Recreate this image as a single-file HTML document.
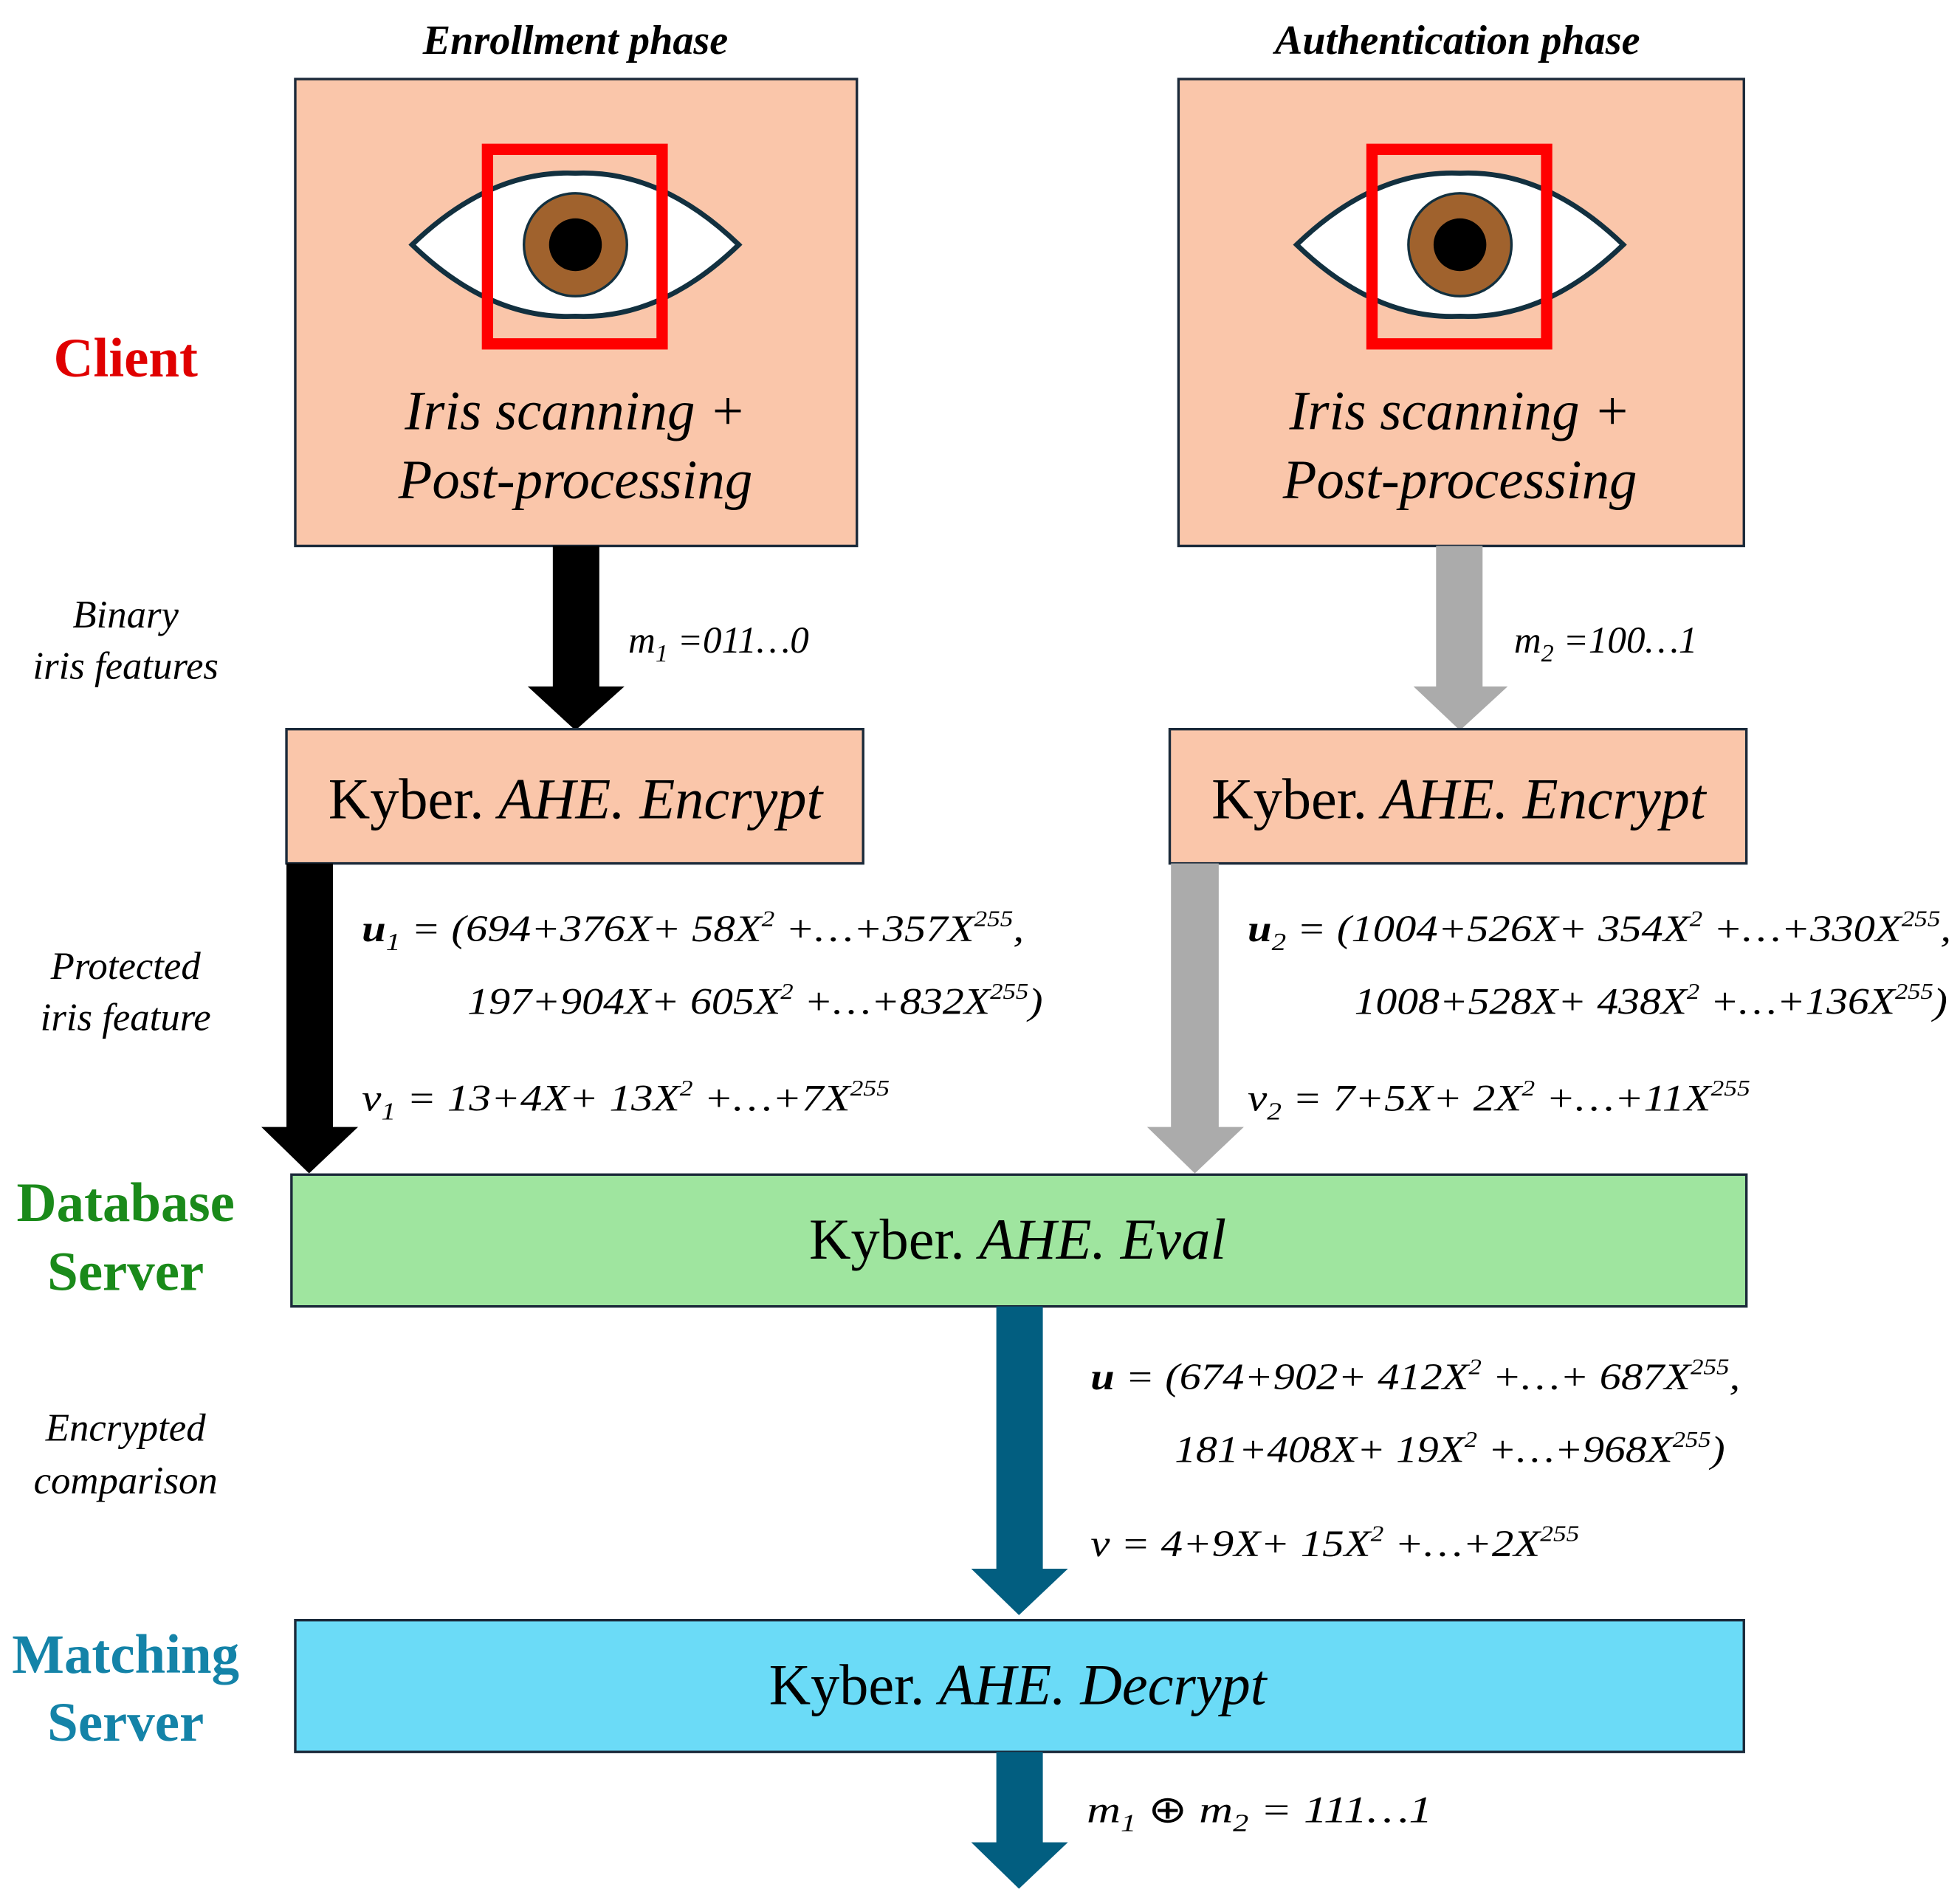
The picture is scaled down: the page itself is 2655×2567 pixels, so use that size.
<!DOCTYPE html>
<html><head><meta charset="utf-8">
<style>
html,body{margin:0;padding:0;background:#fff;}
svg{display:block;}
text{font-family:"Liberation Serif",serif;}
.it{font-style:italic;}
</style></head>
<body>
<svg width="2655" height="2567" viewBox="0 0 1560 1510" preserveAspectRatio="none" xmlns="http://www.w3.org/2000/svg">
<text x="458" y="43" text-anchor="middle" font-size="33" font-weight="bold" class="it">Enrollment phase</text>
<text x="1160" y="43" text-anchor="middle" font-size="33" font-weight="bold" class="it">Authentication phase</text>

<rect x="235" y="63" width="447" height="372" fill="#FAC6AA" stroke="#1b2a3a" stroke-width="2"/>
<rect x="938" y="63" width="450" height="372" fill="#FAC6AA" stroke="#1b2a3a" stroke-width="2"/>

<g>
<path d="M328,195 Q390,135 458,138 Q526,135 588,195 Q526,255 458,252 Q390,255 328,195 Z" fill="#fff" stroke="#12303f" stroke-width="4"/>
<circle cx="458" cy="195" r="41" fill="#A0622D" stroke="#12303f" stroke-width="2"/>
<circle cx="458" cy="195" r="21" fill="#000"/>
<rect x="388" y="119" width="139" height="155" fill="none" stroke="#FF0000" stroke-width="9"/>
</g>
<g transform="translate(704,0)">
<path d="M328,195 Q390,135 458,138 Q526,135 588,195 Q526,255 458,252 Q390,255 328,195 Z" fill="#fff" stroke="#12303f" stroke-width="4"/>
<circle cx="458" cy="195" r="41" fill="#A0622D" stroke="#12303f" stroke-width="2"/>
<circle cx="458" cy="195" r="21" fill="#000"/>
<rect x="388" y="119" width="139" height="155" fill="none" stroke="#FF0000" stroke-width="9"/>
</g>

<text x="458" y="342" text-anchor="middle" font-size="44" class="it">Iris scanning +</text>
<text x="458" y="397" text-anchor="middle" font-size="44" class="it">Post-processing</text>
<text x="1162" y="342" text-anchor="middle" font-size="44" class="it">Iris scanning +</text>
<text x="1162" y="397" text-anchor="middle" font-size="44" class="it">Post-processing</text>

<text x="100" y="300" text-anchor="middle" font-size="44" font-weight="bold" fill="#E00000">Client</text>
<text x="100" y="500" text-anchor="middle" font-size="31" class="it">Binary</text>
<text x="100" y="541" text-anchor="middle" font-size="31" class="it">iris features</text>
<text x="100" y="780" text-anchor="middle" font-size="31" class="it">Protected</text>
<text x="100" y="821" text-anchor="middle" font-size="31" class="it">iris feature</text>
<text x="100" y="973" text-anchor="middle" font-size="44" font-weight="bold" fill="#1A8A1A">Database</text>
<text x="100" y="1028" text-anchor="middle" font-size="44" font-weight="bold" fill="#1A8A1A">Server</text>
<text x="100" y="1148" text-anchor="middle" font-size="31" class="it">Encrypted</text>
<text x="100" y="1190" text-anchor="middle" font-size="31" class="it">comparison</text>
<text x="100" y="1333" text-anchor="middle" font-size="44" font-weight="bold" fill="#1483A8">Matching</text>
<text x="100" y="1387" text-anchor="middle" font-size="44" font-weight="bold" fill="#1483A8">Server</text>

<polygon points="440,435 477,435 477,547 497,547 458,582 420,547 440,547" fill="#000"/>
<polygon points="1143,435 1180,435 1180,547 1200,547 1162,582 1125,547 1143,547" fill="#ABABAB"/>
<text x="500" y="520" font-size="30" class="it">m<tspan font-size="20" dy="7">1</tspan><tspan dy="-7"> =011…0</tspan></text>
<text x="1205" y="520" font-size="30" class="it">m<tspan font-size="20" dy="7">2</tspan><tspan dy="-7"> =100…1</tspan></text>

<rect x="228" y="581" width="459" height="107" fill="#FAC6AA" stroke="#1b2a3a" stroke-width="2"/>
<rect x="931" y="581" width="459" height="107" fill="#FAC6AA" stroke="#1b2a3a" stroke-width="2"/>
<text x="458" y="652" text-anchor="middle" font-size="46"><tspan>Kyber. </tspan><tspan class="it">AHE. Encrypt</tspan></text>
<text x="1161" y="652" text-anchor="middle" font-size="46"><tspan>Kyber. </tspan><tspan class="it">AHE. Encrypt</tspan></text>

<polygon points="228,688 265,688 265,898 285,898 246,935 208,898 228,898" fill="#000"/>
<polygon points="932,688 970,688 970,898 990,898 951,935 913,898 932,898" fill="#ABABAB"/>

<text x="288" y="750" font-size="30" class="it" textLength="527" lengthAdjust="spacingAndGlyphs"><tspan font-weight="bold">u</tspan><tspan font-size="20" dy="7">1</tspan><tspan dy="-7"> = (694+376X+ 58X</tspan><tspan font-size="18" dy="-12">2</tspan><tspan dy="12"> +…+357X</tspan><tspan font-size="18" dy="-12">255</tspan><tspan dy="12">,</tspan></text>
<text x="372" y="808" font-size="30" class="it" textLength="458" lengthAdjust="spacingAndGlyphs">197+904X+ 605X<tspan font-size="18" dy="-12">2</tspan><tspan dy="12"> +…+832X</tspan><tspan font-size="18" dy="-12">255</tspan><tspan dy="12">)</tspan></text>
<text x="288" y="885" font-size="30" class="it" textLength="420" lengthAdjust="spacingAndGlyphs">v<tspan font-size="20" dy="7">1</tspan><tspan dy="-7"> = 13+4X+ 13X</tspan><tspan font-size="18" dy="-12">2</tspan><tspan dy="12"> +…+7X</tspan><tspan font-size="18" dy="-12">255</tspan></text>

<text x="993" y="750" font-size="30" class="it" textLength="560" lengthAdjust="spacingAndGlyphs"><tspan font-weight="bold">u</tspan><tspan font-size="20" dy="7">2</tspan><tspan dy="-7"> = (1004+526X+ 354X</tspan><tspan font-size="18" dy="-12">2</tspan><tspan dy="12"> +…+330X</tspan><tspan font-size="18" dy="-12">255</tspan><tspan dy="12">,</tspan></text>
<text x="1078" y="808" font-size="30" class="it" textLength="472" lengthAdjust="spacingAndGlyphs">1008+528X+ 438X<tspan font-size="18" dy="-12">2</tspan><tspan dy="12"> +…+136X</tspan><tspan font-size="18" dy="-12">255</tspan><tspan dy="12">)</tspan></text>
<text x="993" y="885" font-size="30" class="it" textLength="400" lengthAdjust="spacingAndGlyphs">v<tspan font-size="20" dy="7">2</tspan><tspan dy="-7"> = 7+5X+ 2X</tspan><tspan font-size="18" dy="-12">2</tspan><tspan dy="12"> +…+11X</tspan><tspan font-size="18" dy="-12">255</tspan></text>

<rect x="232" y="936" width="1158" height="105" fill="#9FE59F" stroke="#1b2a3a" stroke-width="2"/>
<text x="810" y="1003" text-anchor="middle" font-size="46"><tspan>Kyber. </tspan><tspan class="it">AHE. Eval</tspan></text>

<polygon points="793,1041 830,1041 830,1250 850,1250 811,1287 773,1250 793,1250" fill="#025E80"/>
<text x="868" y="1107" font-size="30" class="it" textLength="517" lengthAdjust="spacingAndGlyphs"><tspan font-weight="bold">u</tspan><tspan> = (674+902+ 412X</tspan><tspan font-size="18" dy="-12">2</tspan><tspan dy="12"> +…+ 687X</tspan><tspan font-size="18" dy="-12">255</tspan><tspan dy="12">,</tspan></text>
<text x="935" y="1165" font-size="30" class="it" textLength="438" lengthAdjust="spacingAndGlyphs">181+408X+ 19X<tspan font-size="18" dy="-12">2</tspan><tspan dy="12"> +…+968X</tspan><tspan font-size="18" dy="-12">255</tspan><tspan dy="12">)</tspan></text>
<text x="868" y="1240" font-size="30" class="it" textLength="389" lengthAdjust="spacingAndGlyphs">v = 4+9X+ 15X<tspan font-size="18" dy="-12">2</tspan><tspan dy="12"> +…+2X</tspan><tspan font-size="18" dy="-12">255</tspan></text>

<rect x="235" y="1291" width="1153" height="105" fill="#6BDBF7" stroke="#1b2a3a" stroke-width="2"/>
<text x="810" y="1358" text-anchor="middle" font-size="46"><tspan>Kyber. </tspan><tspan class="it">AHE. Decrypt</tspan></text>

<polygon points="793,1396 830,1396 830,1468 850,1468 811,1505 773,1468 793,1468" fill="#025E80"/>
<text x="865" y="1452" font-size="30" class="it" textLength="275" lengthAdjust="spacingAndGlyphs">m<tspan font-size="20" dy="7">1</tspan><tspan dy="-7" font-style="normal"> ⊕ </tspan><tspan>m</tspan><tspan font-size="20" dy="7">2</tspan><tspan dy="-7"> = 111…1</tspan></text>
</svg>
</body></html>
